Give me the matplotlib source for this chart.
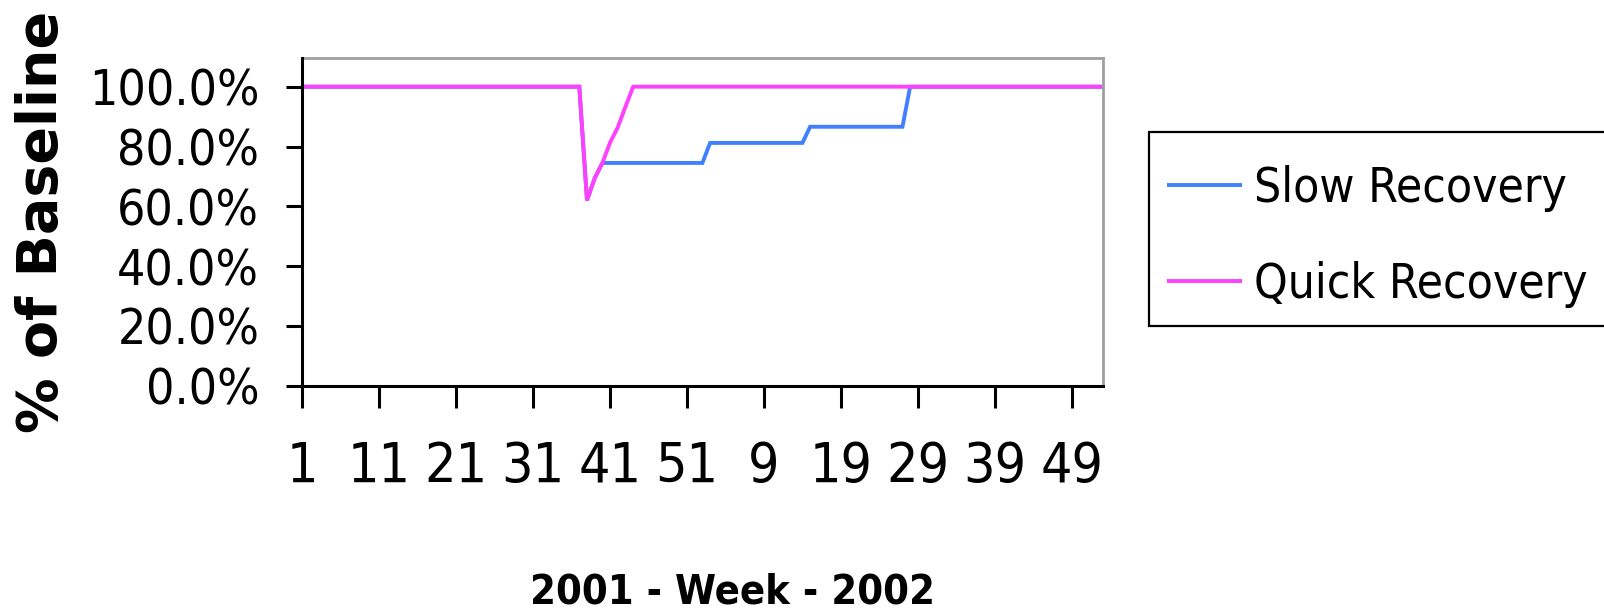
import matplotlib
matplotlib.use("Agg")
import matplotlib.pyplot as plt
from matplotlib import font_manager as fm
from matplotlib.font_manager import FontProperties
from matplotlib.patches import Rectangle

# ---------------- data ----------------
weeks_2001 = list(range(1, 53))
weeks_2002 = list(range(1, 54))
week_labels = weeks_2001 + weeks_2002

slow_recovery = [
    1.0, 1.0, 1.0, 1.0, 1.0, 1.0, 1.0, 1.0, 1.0, 1.0, 1.0, 1.0, 1.0,
    1.0, 1.0, 1.0, 1.0, 1.0, 1.0, 1.0, 1.0, 1.0, 1.0, 1.0, 1.0, 1.0,
    1.0, 1.0, 1.0, 1.0, 1.0, 1.0, 1.0, 1.0, 1.0, 1.0, 1.0, 0.62, 0.694,
    0.745, 0.745, 0.745, 0.745, 0.745, 0.745, 0.745, 0.745, 0.745, 0.745, 0.745, 0.745, 0.745,
    0.745, 0.812, 0.812, 0.812, 0.812, 0.812, 0.812, 0.812, 0.812, 0.812, 0.812, 0.812, 0.812,
    0.812, 0.866, 0.866, 0.866, 0.866, 0.866, 0.866, 0.866, 0.866, 0.866, 0.866, 0.866, 0.866,
    0.866, 1.0, 1.0, 1.0, 1.0, 1.0, 1.0, 1.0, 1.0, 1.0, 1.0, 1.0, 1.0,
    1.0, 1.0, 1.0, 1.0, 1.0, 1.0, 1.0, 1.0, 1.0, 1.0, 1.0, 1.0, 1.0,
    1.0,
]

quick_recovery = [
    1.0, 1.0, 1.0, 1.0, 1.0, 1.0, 1.0, 1.0, 1.0, 1.0, 1.0, 1.0, 1.0,
    1.0, 1.0, 1.0, 1.0, 1.0, 1.0, 1.0, 1.0, 1.0, 1.0, 1.0, 1.0, 1.0,
    1.0, 1.0, 1.0, 1.0, 1.0, 1.0, 1.0, 1.0, 1.0, 1.0, 1.0, 0.62, 0.694,
    0.745, 0.813, 0.864, 0.933, 1.0, 1.0, 1.0, 1.0, 1.0, 1.0, 1.0, 1.0, 1.0,
    1.0, 1.0, 1.0, 1.0, 1.0, 1.0, 1.0, 1.0, 1.0, 1.0, 1.0, 1.0, 1.0,
    1.0, 1.0, 1.0, 1.0, 1.0, 1.0, 1.0, 1.0, 1.0, 1.0, 1.0, 1.0, 1.0,
    1.0, 1.0, 1.0, 1.0, 1.0, 1.0, 1.0, 1.0, 1.0, 1.0, 1.0, 1.0, 1.0,
    1.0, 1.0, 1.0, 1.0, 1.0, 1.0, 1.0, 1.0, 1.0, 1.0, 1.0, 1.0, 1.0,
    1.0,
]

series_names = ["Slow Recovery", "Quick Recovery"]
series_colors = ["#4080FF", "#FF40FF"]
y_ticks = [0.0, 0.2, 0.4, 0.6, 0.8, 1.0]
y_tick_labels = ["0.0%", "20.0%", "40.0%", "60.0%", "80.0%", "100.0%"]
x_title = "2001 - Week - 2002"
y_title = "% of Baseline"

# ---------------- fonts ----------------
def find_condensed(bold):
    prefs = ["liberation sans narrow", "arial narrow", "dejavu sans condensed",
             "dejavusanscondensed", "roboto condensed", "open sans condensed",
             "noto sans condensed", "notosans-condensed"]
    best = None
    best_rank = 999
    for f in fm.fontManager.ttflist:
        n = f.name.lower()
        fn = f.fname.lower().replace("\\", "/").split("/")[-1]
        is_cond = ("narrow" in n or "condensed" in n or "narrow" in fn or "condensed" in fn
                   or f.stretch in ("condensed", "semi-condensed"))
        if not is_cond or f.style != "normal":
            continue
        w = f.weight if isinstance(f.weight, int) else fm.weight_dict.get(f.weight, 400)
        if bold and w < 600:
            continue
        if not bold and (w < 350 or w > 450):
            continue
        if "italic" in fn or "oblique" in fn or "extra" in fn or "semi" in fn:
            continue
        rank = 50
        for i, p in enumerate(prefs):
            if p in n or p in fn:
                rank = i
                break
        if rank < best_rank:
            best, best_rank = f.fname, rank
    return best

reg_path = find_condensed(False)
bold_path = find_condensed(True)
reg_font = FontProperties(fname=reg_path) if reg_path else FontProperties(family="Liberation Sans")
bold_font = (FontProperties(fname=bold_path) if bold_path
             else FontProperties(family="Liberation Sans", weight="bold"))

W, H, DPI = 1604, 613, 100
fig = plt.figure(figsize=(W / DPI, H / DPI), dpi=DPI)
fig.patch.set_facecolor("white")
renderer = fig.canvas.get_renderer()


def measure(text, props, size):
    p = props.copy()
    p.set_size(size)
    return renderer.get_text_width_height_descent(text, p, ismath=False)


def fit_size(text, props, target_px, base=40.0):
    w, h, d = measure(text, props, base)
    return base * target_px / w


def sized(props, size):
    p = props.copy()
    p.set_size(size)
    return p


left, right, top, bottom = 302.3, 1102.5, 58.3, 385.7
ax = fig.add_axes([left / W, 1 - bottom / H, (right - left) / W, (bottom - top) / H])

x = list(range(len(week_labels)))
lines = []
for vals, name, col in zip([slow_recovery, quick_recovery], series_names, series_colors):
    ln, = ax.plot(x, vals, color=col, lw=2.8, label=name, solid_joinstyle="miter",
                  solid_capstyle="butt")
    lines.append(ln)

ax.set_xlim(0, len(week_labels) - 1)
ax.set_ylim(0, 1.095)

tick_pos = list(range(0, len(week_labels), 10))
ax.set_xticks(tick_pos)
ax.set_xticklabels([str(week_labels[i]) for i in tick_pos])
ax.set_yticks(y_ticks)
ax.set_yticklabels(y_tick_labels)

xt_size = fit_size("49", reg_font, 63)
yt_size = fit_size("100.0%", reg_font, 170)
lg_size = fit_size("Slow Recovery", reg_font, 313)
xtitle_size = fit_size(x_title, bold_font, 405)

for lab in ax.get_xticklabels():
    lab.set_fontproperties(sized(reg_font, xt_size))
for lab in ax.get_yticklabels():
    lab.set_fontproperties(sized(reg_font, yt_size))

# place x tick label digit centers at y ~ 470 px
em_x = xt_size * DPI / 72.0
x_tick_end = bottom + 22.0
xpad_px = 470.0 - x_tick_end - 0.55 * em_x
ax.tick_params(axis="x", direction="out", length=22.0 * 72 / DPI, width=2.2, color="black",
               pad=max(xpad_px, 2) * 72 / DPI)
ax.tick_params(axis="y", direction="out", length=16.0 * 72 / DPI, width=2.2, color="black",
               pad=27.0 * 72 / DPI)

for s in ["left", "bottom"]:
    ax.spines[s].set_color("black")
    ax.spines[s].set_linewidth(2.2)
    ax.spines[s].set_zorder(5)
for s in ["top", "right"]:
    ax.spines[s].set_color("#A0A0A0")
    ax.spines[s].set_linewidth(2.0)

# axis titles
fig.text(42 / W, 1 - 222 / H, y_title, rotation=90, ha="center", va="center",
         fontfamily="DejaVu Sans", fontweight="bold", fontsize=40)
fig.text(733.0 / W, 1 - 603.3 / H, x_title, ha="center", va="baseline",
         fontproperties=sized(bold_font, xtitle_size))

# legend: frame drawn as a rectangle, entries placed inside it
box_l, box_t, box_b = 1149.3, 131.7, 326.0
fig.add_artist(Rectangle((box_l / W, 1 - box_b / H), (W + 10 - box_l) / W, (box_b - box_t) / H,
                         transform=fig.transFigure, facecolor="white", edgecolor="black",
                         linewidth=1.6, clip_on=False, zorder=1))
em_l = lg_size * DPI / 72.0
_, th, _ = measure("Slow Recovery", reg_font, lg_size)
leg = fig.legend(lines, series_names, loc="center left",
                 bbox_to_anchor=((box_l + 17.4) / W, 1 - 236.0 / H), bbox_transform=fig.transFigure,
                 frameon=False, borderpad=0, handlelength=75.0 / em_l, handletextpad=12.3 / em_l,
                 labelspacing=(96.0 - th) / em_l, borderaxespad=0,
                 prop=sized(reg_font, lg_size))
leg.set_zorder(2)

fig.savefig("out.png", dpi=DPI, facecolor="white")
